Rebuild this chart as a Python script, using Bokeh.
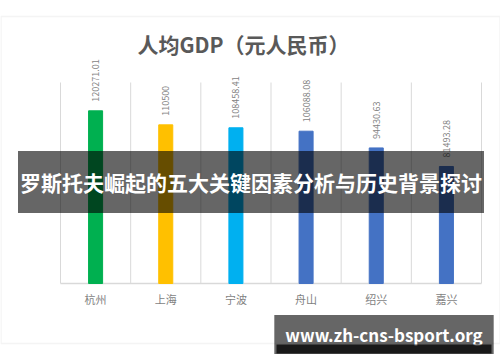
import math
from bokeh.plotting import figure
from bokeh.models import (ColumnDataSource, Range1d, LabelSet, Label, BoxAnnotation)
from bokeh.core.properties import value
from bokeh.embed import file_html
from bokeh.resources import INLINE

# ---- data ----
cities = ["杭州", "上海", "宁波", "舟山", "绍兴", "嘉兴"]
gdp_per_capita = [120271.01, 110500, 108458.41, 106088.08, 94430.63, 81493.28]
value_labels = ["120271.01", "110500", "108458.41", "106088.08", "94430.63", "81493.28"]
y_max = 140000
title_text = "人均GDP（元人民币）"
overlay_text = "罗斯托夫崛起的五大关键因素分析与历史背景探讨"
watermark_text = "www.zh-cns-bsport.org"

# ---- styles ----
bar_colors = ["#00B050", "#FFC000", "#00B0F0", "#4472C4", "#4472C4", "#4472C4"]
FONT = "Noto Sans CJK SC"
GRID = "#d9d9d9"

# ---- layout (pixels in the figure canvas) ----
FW, FH = 500, 362
PL, PR, PT, PB = 60, 481, 82, 283   # plot area edges
n = len(cities)
ux = n / (PR - PL)
uy = y_max / (PB - PT)
x0, x1 = -PL * ux, n + (FW - PR) * ux
y0, y1 = -(FH - PB) * uy, y_max + PT * uy


def dx(px):
    return x0 + px * ux


def dy(py):
    return y1 - py * uy


xs = [i + 0.5 for i in range(n)]
src = ColumnDataSource(dict(x=xs, top=gdp_per_capita, color=bar_colors,
                            lab=value_labels, city=cities, zero=[0] * n))

p = figure(width=FW, height=FH, output_backend="svg", toolbar_location=None,
           x_range=Range1d(x0, x1), y_range=Range1d(y0, y1),
           x_axis_location=None, y_axis_location=None, min_border=0)
p.outline_line_color = None
p.background_fill_color = "white"
p.border_fill_color = "white"
p.grid.visible = False

# card border
p.add_layout(BoxAnnotation(left=dx(0.5), right=dx(499.5), top=dy(16), bottom=dy(343),
                           fill_color=None, line_color=GRID, line_width=1.5))

# vertical grid lines at category boundaries
bounds = list(range(n + 1))
p.segment(x0=bounds, x1=bounds, y0=[0] * (n + 1), y1=[y_max] * (n + 1),
          line_color=GRID, line_width=1)
# baseline
p.segment(x0=[0], x1=[n], y0=[0], y1=[0], line_color=GRID, line_width=1.5)

p.vbar(x="x", top="top", width=0.2, color="color", source=src)

p.add_layout(LabelSet(x="x", y="top", text="lab", source=src, angle=math.pi / 2,
                      text_align="left", text_baseline="middle", y_offset=9,
                      text_color="#7f7f7f", text_font=value(FONT),
                      text_font_size="9px"))

p.add_layout(LabelSet(x="x", y="zero", text="city", source=src,
                      text_align="center", text_baseline="middle", y_offset=-15,
                      text_color="#7f7f7f", text_font=value(FONT),
                      text_font_size="11px"))

p.add_layout(Label(x=dx(243), y=dy(43), text=title_text,
                   text_align="center", text_baseline="middle",
                   text_color="#595959", text_font=FONT, text_font_size="21px",
                   text_font_style="bold"))

p.add_layout(Label(x=dx(250.5), y=dy(181.5), text=overlay_text,
                   text_align="center", text_baseline="middle",
                   text_color="white", text_font=FONT, text_font_size="21px",
                   text_font_style="bold", background_fill_color="black",
                   background_fill_alpha=0.6, padding=(2, 16)))

p.add_layout(Label(x=dx(383.5), y=dy(334), text=watermark_text,
                   text_align="center", text_baseline="middle",
                   text_color="white", text_font=FONT, text_font_size="17px",
                   text_font_style="bold", background_fill_color="black",
                   background_fill_alpha=0.6, padding=(11, 7)))

p.add_layout(BoxAnnotation(left=dx(276), right=dx(491), top=dy(344), bottom=dy(353),
                           fill_color="black", fill_alpha=0.75, line_color=None))

open("out.html", "w").write(file_html(p, INLINE))
